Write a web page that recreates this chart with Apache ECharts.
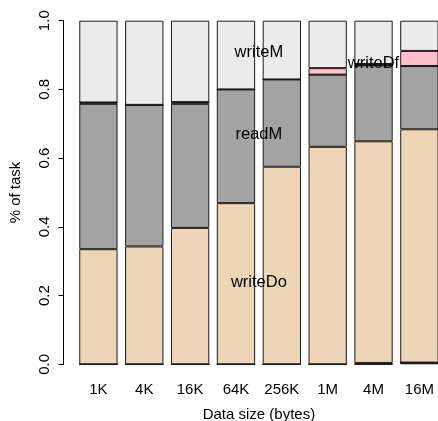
<!DOCTYPE html>
<html>
<head>
<meta charset="utf-8">
<script src="https://cdn.jsdelivr.net/npm/echarts@6/dist/echarts.min.js"></script>
<style>
  html, body { margin: 0; padding: 0; background: #fff; }
  #main { width: 438px; height: 421px; }
</style>
</head>
<body>
<div id="main"></div>
<script>
// data (fraction of task)
var sizes = ['1K', '4K', '16K', '64K', '256K', '1M', '4M', '16M'];

var navyPart  = [0, 0, 0, 0, 0, 0, 0, 0.005];
var blackLow  = [0, 0, 0, 0, 0, 0, 0.004, 0];
var writeDo   = [0.335, 0.343, 0.397, 0.469, 0.575, 0.633, 0.645, 0.679];
var readM     = [0.423, 0.412, 0.361, 0.331, 0.254, 0.210, 0.221, 0.184];
var blackMid  = [0.004, 0, 0.005, 0, 0, 0, 0, 0];
var writeDf   = [0, 0, 0, 0, 0, 0.019, 0.004, 0.044];
var writeM    = [0.238, 0.245, 0.237, 0.200, 0.171, 0.138, 0.126, 0.088];

// in-plot labels: name, x (bar index), y (fraction)
var noteNames = ['writeM', 'readM', 'writeDo', 'writeDf'];
var noteX     = [3.5, 3.5, 3.5, 6];
var noteY     = [0.909, 0.670, 0.237, 0.877];

var FONT = 'Liberation Sans, Arial, sans-serif';

var chart = echarts.init(document.getElementById('main'), null, { renderer: 'canvas' });

function bar(name, data, color) {
  return {
    name: name,
    type: 'bar',
    stack: 'task',
    data: data,
    barWidth: 38.3,
    animation: false,
    itemStyle: { color: color, borderColor: '#1a1a1a', borderWidth: 1 },
    emphasis: { disabled: true }
  };
}

var option = {
  backgroundColor: '#fff',
  animation: false,
  grid: { left: 75.5, top: 20.7, width: 366.8, height: 343.6, outerBoundsMode: 'none', containLabel: false },
  xAxis: {
    type: 'category',
    data: sizes,
    name: 'Data size (bytes)',
    nameLocation: 'middle',
    nameGap: 43,
    nameTextStyle: { fontFamily: FONT, fontSize: 15, color: '#000' },
    axisLine: { show: false },
    axisTick: { show: false },
    axisLabel: { fontFamily: FONT, fontSize: 15, color: '#000', margin: 18, interval: 0 }
  },
  yAxis: {
    type: 'value',
    min: 0,
    max: 1,
    interval: 0.2,
    offset: 12,
    name: '% of task',
    nameLocation: 'middle',
    nameRotate: 90,
    nameGap: 40,
    nameTextStyle: { fontFamily: FONT, fontSize: 15, color: '#000' },
    splitLine: { show: false },
    axisLine: { show: true, lineStyle: { color: '#000', width: 1 } },
    axisTick: { show: true, length: 5, lineStyle: { color: '#000' } },
    axisLabel: {
      rotate: 90,
      margin: 11,
      fontFamily: FONT, fontSize: 15, color: '#000',
      formatter: function (v) { return v.toFixed(1); }
    }
  },
  series: [
    bar('n0', navyPart, '#000080'),
    bar('n1', blackLow, '#000000'),
    bar('writeDo', writeDo, '#EED5B7'),
    bar('readM', readM, '#A3A3A3'),
    bar('n2', blackMid, '#000000'),
    bar('writeDf', writeDf, '#FFC0CB'),
    bar('writeM', writeM, '#EBEBEB')
  ]
};
chart.setOption(option);

// place the text notes through the chart's own scales
function catPx(pos) {
  var i = Math.floor(pos), f = pos - i;
  var a = chart.convertToPixel({ xAxisIndex: 0 }, sizes[i]);
  if (f === 0) return a;
  var b = chart.convertToPixel({ xAxisIndex: 0 }, sizes[i + 1]);
  return a + (b - a) * f;
}
var notes = noteNames.map(function (n, k) {
  return {
    type: 'text',
    x: catPx(noteX[k]),
    y: chart.convertToPixel({ yAxisIndex: 0 }, noteY[k]),
    z: 100,
    style: {
      text: n,
      fill: '#000',
      font: '16.5px ' + FONT,
      align: 'center',
      verticalAlign: 'middle'
    }
  };
});
chart.setOption({ graphic: notes });
</script>
</body>
</html>
